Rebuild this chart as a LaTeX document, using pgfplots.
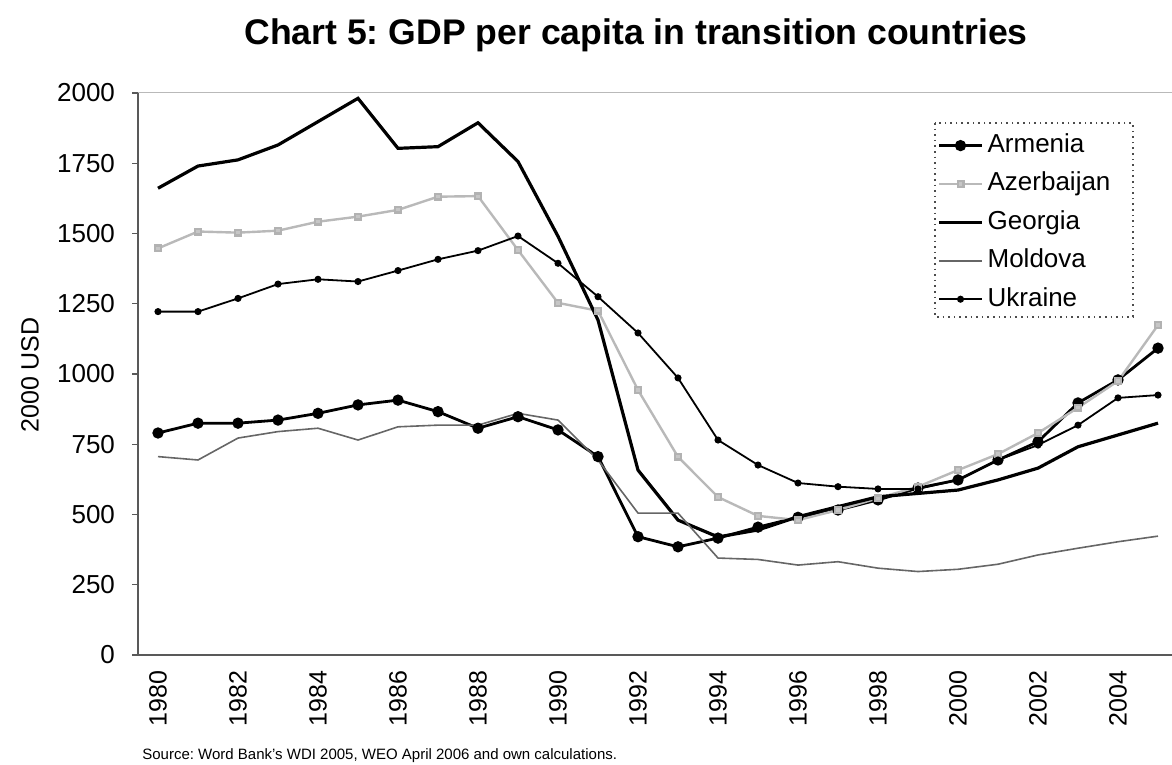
\documentclass[border=0pt]{standalone}
\usepackage{fontspec}
\setmainfont{Liberation Sans}
\usepackage{pgfplots}
\usepackage{pgfplotstable}
\pgfplotsset{compat=1.18}
\pgfplotstableread{
year arm aze geo mol ukr
1980 790 1447 1661 706 1222
1981 825 1507 1740 694 1222
1982 825 1503 1762 772 1269
1983 836 1510 1815 795 1320
1984 860 1542 1898 807 1337
1985 890 1560 1981 765 1329
1986 907 1584 1803 812 1368
1987 866 1631 1809 818 1408
1988 807 1633 1894 818 1439
1989 848 1441 1756 860 1491
1990 801 1253 1490 836 1394
1991 706 1225 1192 694 1275
1992 421 943 658 505 1146
1993 385 705 480 505 986
1994 416 562 420 345 765
1995 455 495 445 340 676
1996 490 480 492 320 612
1997 516 516 528 332 599
1998 552 558 563 309 591
1999 594 599 575 297 591
2000 623 658 587 305 623
2001 694 715 623 323 694
2002 759 790 665 356 747
2003 897 880 741 380 818
2004 979 975 783 403 915
2005 1092 1174 825 423 925
}\gdp
\frenchspacing
\begin{document}
\begin{tikzpicture}
\useasboundingbox (0,0) rectangle (586pt,382.5pt);
\begin{axis}[
  at={(69pt,55pt)}, anchor=south west,
  scale only axis, width=517pt, height=281pt,
  xmin=1979.5, xmax=2005.35, ymin=0, ymax=2000,
  axis x line*=bottom, axis y line*=left,
  axis line style={black!65, line width=0.9pt},
  xtick={1980,1982,...,2004},
  xtick style={draw=none},
  minor xtick={1979.5,1980.5,...,2004.5},
  minor tick style={black!65, line width=0.7pt},
  minor tick length=3pt,
  ytick={0,250,...,2000},
  ytick style={black!65, line width=0.7pt},
  major tick length=3pt,
  tick align=outside,
  xticklabel style={rotate=90, anchor=east, font=\fontsize{12.5}{14}\selectfont},
  xticklabel shift=1.5pt,
  yticklabel style={font=\fontsize{13}{15}\selectfont, xshift=-5pt},
  /pgf/number format/assume math mode=true,
  /pgf/number format/1000 sep={},
  legend style={at={(rel axis cs:0.7708,0.9466)}, anchor=north west, draw=none, fill=none,
    font=\fontsize{13}{15}\selectfont, inner xsep=1pt, inner ysep=1.5pt, row sep=0pt,
    nodes={text height=9.5pt, text depth=2.7pt, inner ysep=3.5pt, inner xsep=2pt}},
  legend cell align=left,
  legend image code/.code={\draw[mark repeat=2,mark phase=2,#1] plot coordinates {(0pt,0pt) (10.75pt,0pt) (21.5pt,0pt)};},
]
\addplot[black, line width=1.4pt, mark=*, mark size=2.1pt] table[x=year,y=arm]{\gdp};
\addlegendentry{Armenia}
\addplot[gray!55, line width=1.2pt, mark=square*, mark size=1.4pt, mark options={fill=gray!45, draw=gray!60}] table[x=year,y=aze]{\gdp};
\addlegendentry{Azerbaijan}
\addplot[black, line width=1.6pt] table[x=year,y=geo]{\gdp};
\addlegendentry{Georgia}
\addplot[black!60, line width=0.8pt] table[x=year,y=mol]{\gdp};
\addlegendentry{Moldova}
\addplot[black, line width=0.9pt, mark=*, mark size=1.3pt] table[x=year,y=ukr]{\gdp};
\addlegendentry{Ukraine}
\draw[gray!55, line width=0.5pt] (rel axis cs:0,1) -- (rel axis cs:1,1);
\draw[black!70, dotted, line width=0.8pt] (rel axis cs:0.7708,0.9466) rectangle (rel axis cs:0.9623,0.6014);
\end{axis}
\node[anchor=base, font=\fontsize{17.8}{20}\selectfont\bfseries] at (318pt,360pt) {Chart 5: GDP per capita in transition countries};
\node[rotate=90, font=\fontsize{12.5}{14}\selectfont] at (15pt,195pt) {2000 USD};
\node[anchor=west, font=\fontsize{7.5}{9}\selectfont, inner sep=0pt] at (71pt,4.5pt) {Source: Word Bank's WDI 2005, WEO April 2006 and own calculations.};
\end{tikzpicture}
\end{document}
